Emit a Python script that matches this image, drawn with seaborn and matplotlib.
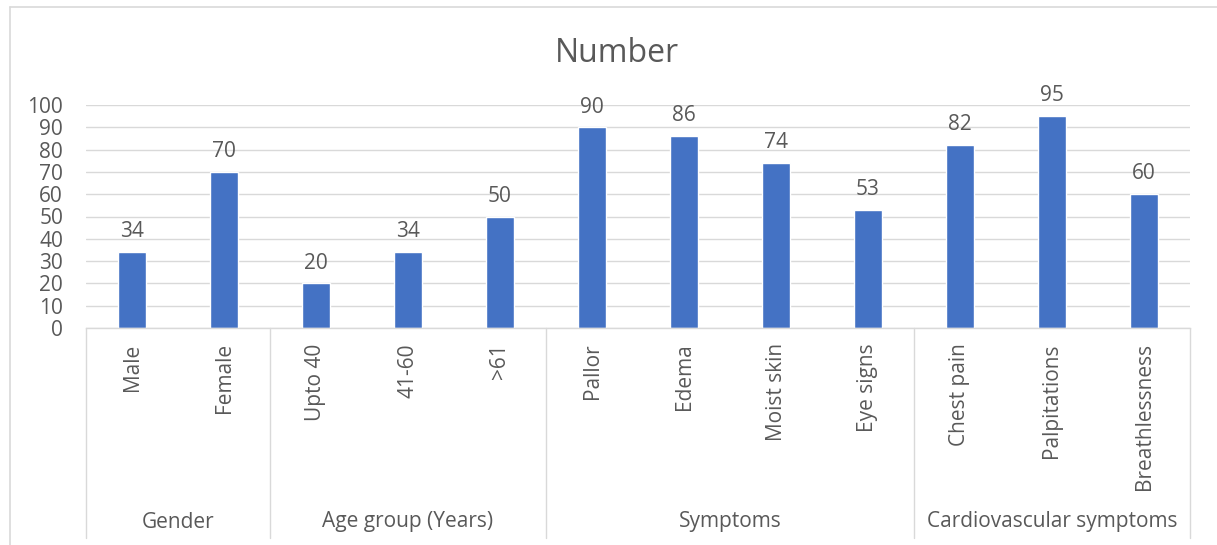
import matplotlib
matplotlib.use("Agg")
import matplotlib.pyplot as plt
import seaborn as sns
import pandas as pd
from matplotlib.lines import Line2D

# Data
categories = ["Male", "Female", "Upto 40", "41-60", ">61", "Pallor", "Edema",
              "Moist skin", "Eye signs", "Chest pain", "Palpitations", "Breathlessness"]
values = [34, 70, 20, 34, 50, 90, 86, 74, 53, 82, 95, 60]
groups = ["Gender", "Age group (Years)", "Symptoms", "Cardiovascular symptoms"]
group_sizes = [2, 3, 4, 3]
y_ticks = [0, 10, 20, 30, 40, 50, 60, 70, 80, 90, 100]
title = "Number"

sns.set_theme(style="white")
plt.rcParams["font.family"] = ["Open Sans", "DejaVu Sans"]

TEXT = "#595959"
GRID = "#D9D9D9"
BAR = "#4472C4"
FS = 15

W, H = 1217, 545
fig = plt.figure(figsize=(W / 100, H / 100), dpi=100)
ax = fig.add_axes([86 / W, (H - 328) / H, (1190 - 86) / W, (328 - 105) / H])

df = pd.DataFrame({"category": categories, "value": values})
sns.barplot(data=df, x="category", y="value", color=BAR, width=0.315,
            saturation=1, ax=ax, order=categories)

ax.set_xlim(-0.5, len(categories) - 0.5)
ax.set_ylim(0, 100)
ax.set_yticks(y_ticks)
ax.set_yticklabels([str(t) for t in y_ticks], fontsize=FS, color=TEXT)
ax.tick_params(axis="y", length=0, pad=16.5)
ax.set_xticks(range(len(categories)))
ax.set_xticklabels(categories, rotation=90, fontsize=FS, color=TEXT, va="top")
ax.tick_params(axis="x", length=0, pad=11)
ax.set_xlabel("")
ax.set_ylabel("")

ax.grid(axis="y", color=GRID, linewidth=1.0)
ax.grid(axis="x", visible=False)
ax.set_axisbelow(True)
for side in ["left", "right", "top"]:
    ax.spines[side].set_visible(False)
ax.spines["bottom"].set_color(GRID)
ax.spines["bottom"].set_linewidth(1.0)

# Value labels above bars
for cont in ax.containers:
    ax.bar_label(cont, labels=[str(v) for v in values], padding=7,
                 fontsize=FS, color=TEXT)

# Multi-level category axis: group separators and group names
tr = ax.get_xaxis_transform()
y_sep_bottom = (328 - 538) / (328 - 105)
y_group = (328 - 522) / (328 - 105)
edges = [-0.5]
for n in group_sizes:
    edges.append(edges[-1] + n)
for e in edges:
    ax.plot([e, e], [0, y_sep_bottom], transform=tr, color=GRID,
            linewidth=1.0, clip_on=False)
for g, a, b in zip(groups, edges[:-1], edges[1:]):
    ax.text((a + b) / 2, y_group, g, transform=tr, ha="center", va="center",
            fontsize=FS, color=TEXT, clip_on=False)

# Title
fig.text(617 / W, 1 - 53 / H, title, ha="center", va="center",
         fontsize=23, color=TEXT)

# Chart frame
fx = 10 / W
fy = 1 - 7 / H
fig.add_artist(Line2D([fx, fx], [0, fy], transform=fig.transFigure,
                      color=GRID, linewidth=1.2))
fig.add_artist(Line2D([fx, 1], [fy, fy], transform=fig.transFigure,
                      color=GRID, linewidth=1.2))

fig.savefig("out.png", dpi=100)
